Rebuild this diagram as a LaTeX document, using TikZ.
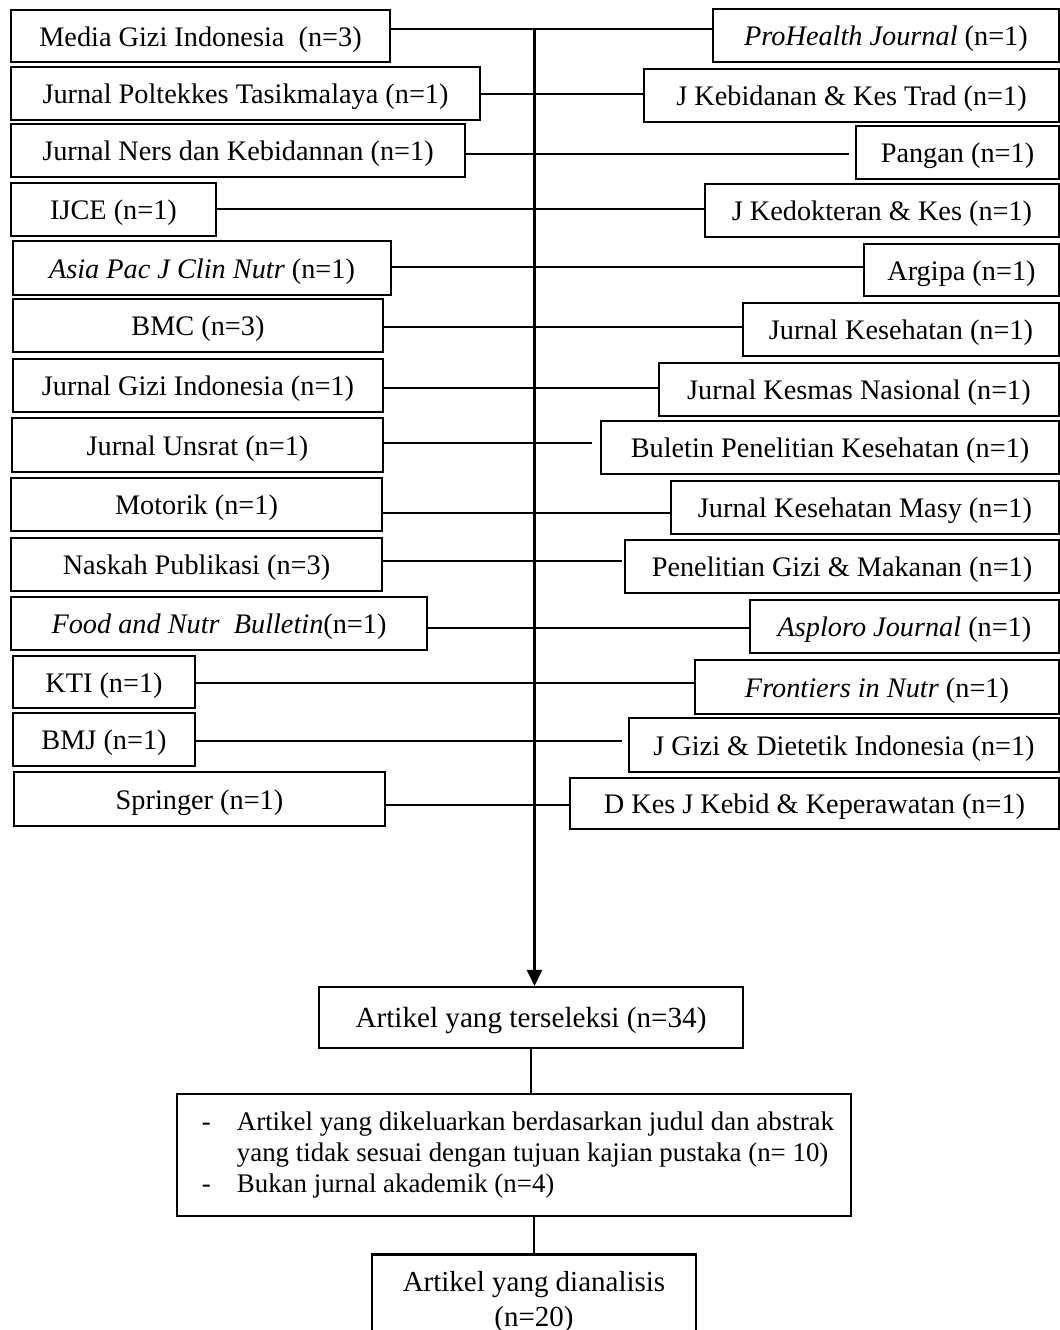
\documentclass[tikz,border=0pt]{standalone}
\usepackage{fontspec}
\setmainfont{Liberation Serif}
\usetikzlibrary{arrows.meta}

\tikzset{
    jbox/.style={draw=black, line width=1.2pt, inner sep=0pt,
        text height=14.5pt, text depth=2.6pt},
    link/.style={draw=black, line width=1.2pt}
}

\begin{document}
\begin{tikzpicture}[x=0.02cm, y=-0.02cm, font=\fontsize{16.1}{19}\selectfont]
        \useasboundingbox (0,0) rectangle (1060,1330);

        \foreach \i/\xa/\xb/\ya/\yb/\txt in {
            1/11/390/10/62/{Media Gizi Indonesia\ \ (n=3)},
            2/11/480/67/120/{Jurnal Poltekkes Tasikmalaya (n=1)},
            3/11/465/124/177/{Jurnal Ners dan Kebidannan (n=1)},
            4/11/216/183/236/{IJCE (n=1)},
            5/13/391/241/295/{\textit{Asia Pac J Clin Nutr} (n=1)},
            6/13/383/299/352/{BMC (n=3)},
            7/13/383/359/412/{Jurnal Gizi Indonesia (n=1)},
            8/12/383/418/472/{Jurnal Unsrat (n=1)},
            9/11/382/478/531/{Motorik (n=1)},
            10/11/382/538/591/{Naskah Publikasi (n=3)},
            11/11/427/597/650/{\textit{Food and Nutr\ \ Bulletin}(n=1)},
            12/13/195/656/708/{KTI (n=1)},
            13/13/195/713/766/{BMJ (n=1)},
            14/14/385/772/826/{Springer (n=1)}}
        {
            \pgfmathsetmacro\w{(\xb-\xa)*0.02}
            \pgfmathsetmacro\h{(\yb-\ya)*0.02}
            \node[jbox, minimum width=\w cm, minimum height=\h cm]
            (l\i) at ({(\xa+\xb)/2},{(\ya+\yb)/2}) {\txt};
        }

        \foreach \i/\xa/\ya/\yb/\txt in {
            1/713/9/62/{\textit{ProHealth Journal} (n=1)},
            2/644/69/122/{J Kebidanan \& Kes Trad (n=1)},
            3/856/126/179/{Pangan (n=1)},
            4/705/184/237/{J Kedokteran \& Kes (n=1)},
            5/864/244/296/{Argipa (n=1)},
            6/743/303/356/{Jurnal Kesehatan (n=1)},
            7/659/363/416/{Jurnal Kesmas Nasional (n=1)},
            8/601/421/474/{Buletin Penelitian Kesehatan (n=1)},
            9/671/481/534/{Jurnal Kesehatan Masy (n=1)},
            10/625/540/593/{Penelitian Gizi \& Makanan (n=1)},
            11/750/600/653/{\textit{Asploro Journal} (n=1)},
            12/695/660/714/{\textit{Frontiers in Nutr} (n=1)},
            13/629/718/772/{J Gizi \& Dietetik Indonesia (n=1)},
            14/570/778/829/{D Kes J Kebid \& Keperawatan (n=1)}}
        {
            \pgfmathsetmacro\w{(1059-\xa)*0.02}
            \pgfmathsetmacro\h{(\yb-\ya)*0.02}
            \node[jbox, minimum width=\w cm, minimum height=\h cm]
            (r\i) at ({(\xa+1059)/2},{(\ya+\yb)/2}) {\txt};
        }

        \foreach \i/\ly/\gap in {1/29/0, 2/94/0, 3/154/6, 4/209/0, 5/267/0,
            6/327/0, 7/388/0, 8/443/8, 9/513/0, 10/561/2, 11/628/0,
            12/683/0, 13/741/6, 14/805/0}
        {
            \pgfmathsetmacro\g{\gap*0.02}
            \draw[link, shorten >=\g cm] (l\i.east |- 0,\ly) -- (r\i.west |- 0,\ly);
        }

        \node[jbox, minimum width=8.48cm, minimum height=1.22cm,
            font=\fontsize{16.6}{19}\selectfont]
        (sel) at (531,1017.5) {Artikel yang terseleksi (n=34)};

        \node[draw=black, line width=1.2pt, inner sep=0pt,
            minimum width=13.48cm, minimum height=2.44cm,
            font=\fontsize{15.3}{17.6}\selectfont]
        (excl) at (514,1155)
        {\begin{tabular}{@{\hspace{0.16cm}}p{0.7cm}@{}l@{}}
            - & Artikel yang dikeluarkan berdasarkan judul dan abstrak\\
              & yang tidak sesuai dengan tujuan kajian pustaka (n= 10)\\
            - & Bukan jurnal akademik (n=4)
         \end{tabular}};

        \node[draw=black, line width=1.2pt, inner sep=0pt, align=center,
            minimum width=6.48cm, minimum height=1.9cm,
            font=\fontsize{16.5}{19.5}\selectfont]
        (ana) at (534,1302) {Artikel yang dianalisis\\(n=20)};

        \coordinate (trunk) at (534.5,29);
        \draw[link, -{Triangle[length=3.2mm, width=3mm]}] (trunk) -- (trunk |- sel.north);
        \draw[link] (sel.south) -- (sel.south |- excl.north);
        \draw[link] (ana.north |- excl.south) -- (ana.north);
\end{tikzpicture}
\end{document}
